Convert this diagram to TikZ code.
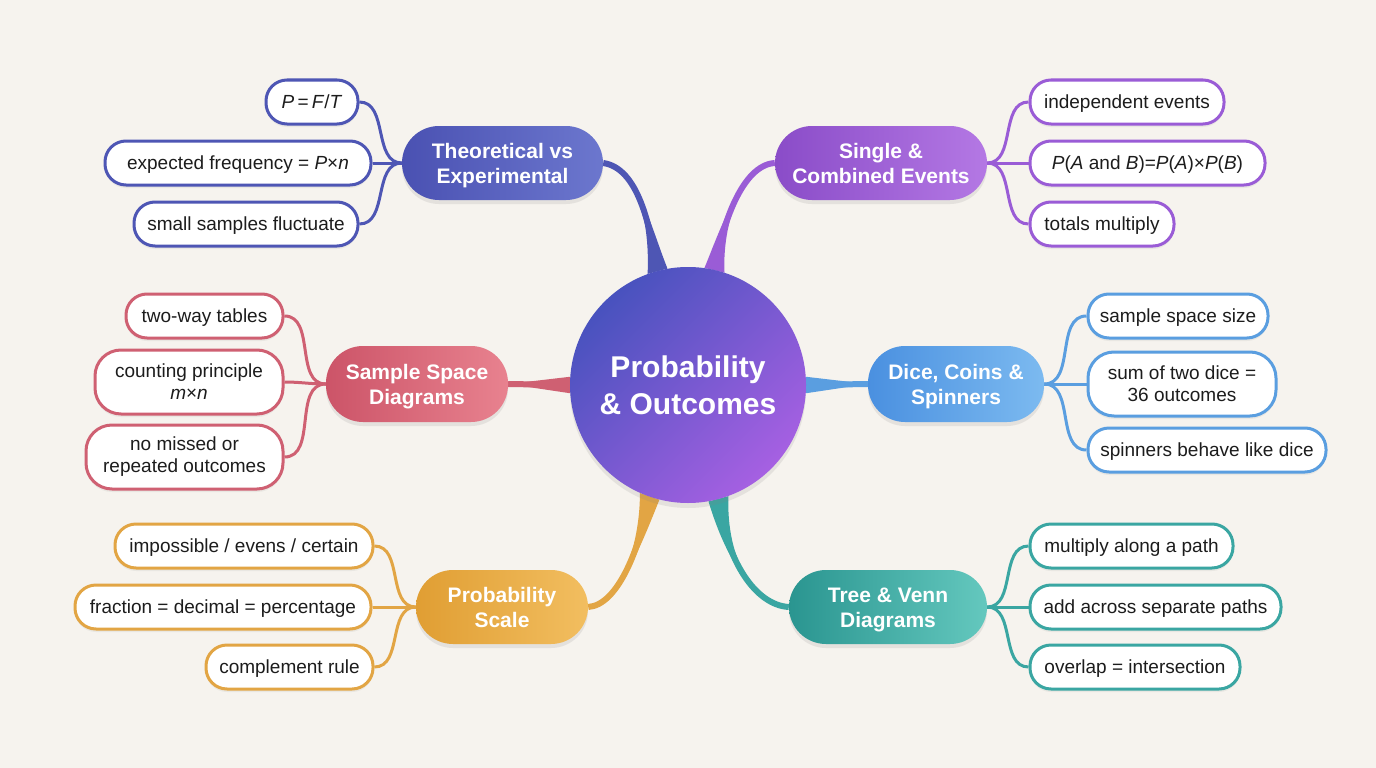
\documentclass[tikz,border=0pt]{standalone}
\usepackage{fontspec}
\setmainfont{Liberation Sans}
\usetikzlibrary{shadows,calc}
\pgfdeclarelayer{bg}
\pgfsetlayers{bg,main}
\definecolor{bgcol}{HTML}{F6F3EE}
\definecolor{cIndigo}{HTML}{4E56B4}
\definecolor{cIndigoA}{HTML}{4A51B2}
\definecolor{cIndigoB}{HTML}{6C77CE}
\definecolor{cPurple}{HTML}{9A5CD6}
\definecolor{cPurpleA}{HTML}{8A4CC8}
\definecolor{cPurpleB}{HTML}{B478E4}
\definecolor{cPink}{HTML}{CF6072}
\definecolor{cPinkA}{HTML}{CC5468}
\definecolor{cPinkB}{HTML}{E8828F}
\definecolor{cBlue}{HTML}{5A9EE0}
\definecolor{cBlueA}{HTML}{4A90E0}
\definecolor{cBlueB}{HTML}{7CBAF0}
\definecolor{cOrange}{HTML}{E2A544}
\definecolor{cOrangeA}{HTML}{E09E33}
\definecolor{cOrangeB}{HTML}{F2BE60}
\definecolor{cTeal}{HTML}{3AA6A2}
\definecolor{cTealA}{HTML}{2A9590}
\definecolor{cTealB}{HTML}{64C8BE}
\definecolor{cCenterA}{HTML}{4852BE}
\definecolor{cCenterB}{HTML}{A660E2}
\definecolor{leaftext}{HTML}{1C1C1C}
\newcommand{\brtext}[2]{\rule{0pt}{20pt}#1\\#2\rule[-5pt]{0pt}{5pt}}
\tikzset{
  leaf/.style={draw=#1, line width=3pt, fill=white, rounded corners=21pt,
    minimum height=44pt, inner sep=2pt, align=center, text=leaftext,
    font=\fontsize{19}{22}\selectfont,
    drop shadow={opacity=0.10, shadow xshift=0pt, shadow yshift=-3pt}},
  leafone/.style={leaf=#1, text height=13.6pt, text depth=0pt},
  tall/.style={minimum height=64pt, rounded corners=26pt},
  branch/.style n args={2}{left color=#1, right color=#2, draw=none,
    rounded corners=37pt, minimum height=74pt, inner sep=2pt, align=center,
    text=white, font=\bfseries\fontsize{21}{25}\selectfont,
    drop shadow={opacity=0.15, shadow xshift=0pt, shadow yshift=-4pt}},
  lk/.style={draw=#1, line width=3pt},
  trunk/.style={fill=#1},
  trunkline/.style={draw=#1, line width=6pt}
}
\begin{document}
\begin{tikzpicture}[x=1pt,y=-1pt]
\useasboundingbox (0,0) rectangle (1376,768);
\begin{pgfonlayer}{bg}
\fill[bgcol] (0,0) rectangle (1376,768);
\end{pgfonlayer}

% centre
\node[circle, minimum size=236pt, inner sep=0pt, top color=cCenterA, bottom color=cCenterB,
  shading angle=45, text=white, align=center,
  font=\bfseries\fontsize{30}{37}\selectfont,
  drop shadow={opacity=0.15, shadow xshift=0pt, shadow yshift=-5pt}] (c) at (688,385) {Probability\\\& Outcomes};

% branches
\node[branch={cIndigoA}{cIndigoB}, minimum width=201pt] (t1) at (502.5,163) {\brtext{Theoretical vs}{Experimental}};
\node[branch={cPurpleA}{cPurpleB}, minimum width=212pt] (s1) at (881,163) {\brtext{Single \&}{Combined Events}};
\node[branch={cPinkA}{cPinkB}, minimum width=182pt, minimum height=76pt] (ss) at (417,384) {\brtext{Sample Space}{Diagrams}};
\node[branch={cBlueA}{cBlueB}, minimum width=176pt, minimum height=76pt] (dc) at (956,384) {\brtext{Dice, Coins \&}{Spinners}};
\node[branch={cOrangeA}{cOrangeB}, minimum width=172pt] (ps) at (502,607) {\brtext{Probability}{Scale}};
\node[branch={cTealA}{cTealB}, minimum width=198pt] (tv) at (888,607) {\brtext{Tree \& Venn}{Diagrams}};

% leaves
\node[leafone=cIndigo, minimum width=92pt] (pft) at (312,102) {\textit{P}\,=\,\textit{F}/\textit{T}};
\node[leafone=cIndigo, minimum width=266pt] (efq) at (238,163) {expected frequency = \textit{P}×\textit{n}};
\node[leafone=cIndigo, minimum width=224pt] (ssf) at (246,224) {small samples fluctuate};

\node[leafone=cPurple, minimum width=194pt] (ie) at (1127,102) {independent events};
\node[leafone=cPurple, minimum width=235pt] (pab) at (1147.5,163) {\textit{P}(\textit{A} and \textit{B})=\textit{P}(\textit{A})×\textit{P}(\textit{B})};
\node[leafone=cPurple, minimum width=144pt] (tm) at (1102,224) {totals multiply};

\node[leafone=cPink, minimum width=157pt] (twt) at (204.5,316) {two-way tables};
\node[leaf=cPink, tall, minimum width=188pt] (cp) at (189,382) {counting principle\\\textit{m}×\textit{n}};
\node[leaf=cPink, tall, minimum width=197pt] (nmo) at (184.5,457) {no missed or\\repeated outcomes};

\node[leafone=cBlue, minimum width=180pt] (sss) at (1178,316) {sample space size};
\node[leaf=cBlue, tall, minimum width=188pt] (sotd) at (1182,384) {sum of two dice =\\36 outcomes};
\node[leafone=cBlue, minimum width=238pt] (sbd) at (1207,450) {spinners behave like dice};

\node[leafone=cOrange, minimum width=258pt] (iec) at (244,546) {impossible / evens / certain};
\node[leafone=cOrange, minimum width=296pt] (fdp) at (223,607) {fraction = decimal = percentage};
\node[leafone=cOrange, minimum width=167pt] (cr) at (289.5,667) {complement rule};

\node[leafone=cTeal, minimum width=203pt] (map) at (1131.5,546) {multiply along a path};
\node[leafone=cTeal, minimum width=251pt] (aasp) at (1155.5,607) {add across separate paths};
\node[leafone=cTeal, minimum width=210pt] (oi) at (1135,667) {overlap = intersection};

\begin{pgfonlayer}{bg}
% trunks from centre
\fill[trunk=cIndigo] (c.100) .. controls (650,225) and (638,168) .. (t1.east) .. controls (638,168) and (650,225) .. (c.110) -- cycle;
\draw[trunkline=cIndigo] (c.105) .. controls (650,225) and (638,168) .. (t1.east);

\fill[trunk=cPurple] (c.72) .. controls (722,225) and (742,165) .. (s1.west) .. controls (742,165) and (722,225) .. (c.82) -- cycle;
\draw[trunkline=cPurple] (c.77) .. controls (722,225) and (742,165) .. (s1.west);

\fill[trunk=cPink] (c.176) -- (ss.east) -- (c.184) -- cycle;
\draw[trunkline=cPink] (c.180) -- (ss.east);

\fill[trunk=cBlue] (c.356) -- (dc.west) -- (c.4) -- cycle;
\draw[trunkline=cBlue] (c.0) -- (dc.west);

\fill[trunk=cOrange] (c.246) .. controls (640,548) and (618,605) .. (ps.east) .. controls (618,605) and (640,548) .. (c.256) -- cycle;
\draw[trunkline=cOrange] (c.251) .. controls (640,548) and (618,605) .. (ps.east);

\fill[trunk=cTeal] (c.280) .. controls (726,560) and (755,605) .. (tv.west) .. controls (755,605) and (726,560) .. (c.290) -- cycle;
\draw[trunkline=cTeal] (c.285) .. controls (726,560) and (755,605) .. (tv.west);

% leaf links
\draw[lk=cIndigo] (pft.east) to[out=0,in=180] (t1.west);
\draw[lk=cIndigo] (efq.east) to[out=0,in=180] (t1.west);
\draw[lk=cIndigo] (ssf.east) to[out=0,in=180] (t1.west);

\draw[lk=cPurple] (s1.east) to[out=0,in=180] (ie.west);
\draw[lk=cPurple] (s1.east) to[out=0,in=180] (pab.west);
\draw[lk=cPurple] (s1.east) to[out=0,in=180] (tm.west);

\draw[lk=cPink] (twt.east) to[out=0,in=180] (ss.west);
\draw[lk=cPink] (cp.east) to[out=0,in=180] (ss.west);
\draw[lk=cPink] (nmo.east) to[out=0,in=180] (ss.west);

\draw[lk=cBlue] (dc.east) to[out=0,in=180] (sss.west);
\draw[lk=cBlue] (dc.east) to[out=0,in=180] (sotd.west);
\draw[lk=cBlue] (dc.east) to[out=0,in=180] (sbd.west);

\draw[lk=cOrange] (iec.east) to[out=0,in=180] (ps.west);
\draw[lk=cOrange] (fdp.east) to[out=0,in=180] (ps.west);
\draw[lk=cOrange] (cr.east) to[out=0,in=180] (ps.west);

\draw[lk=cTeal] (tv.east) to[out=0,in=180] (map.west);
\draw[lk=cTeal] (tv.east) to[out=0,in=180] (aasp.west);
\draw[lk=cTeal] (tv.east) to[out=0,in=180] (oi.west);
\end{pgfonlayer}
\end{tikzpicture}
\end{document}
